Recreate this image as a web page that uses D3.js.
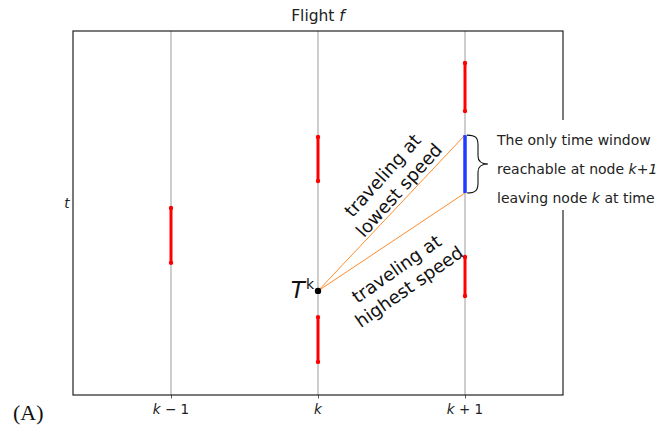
<!DOCTYPE html>
<html>
<head>
<meta charset="utf-8">
<script src="https://cdn.jsdelivr.net/npm/d3@7"></script>
<style>
  html, body { margin: 0; padding: 0; background: #fff; }
  svg { display: block; font-family: "DejaVu Sans", Verdana, sans-serif; }
</style>
</head>
<body>
<svg id="chart" width="671" height="431"></svg>
<script>
// Nodes along the flight (x positions) and their tick labels
const nodePos = [1, 2, 3];
const nodeLabels = [["k", " \u2212 1"], ["k", ""], ["k", " + 1"]];

// Time windows at each node (start / end on the time axis)
const windowNode  = [1, 2, 2, 3, 3];
const windowStart = [36.3, 58.8, 9.1, 78.0, 27.2];
const windowEnd   = [51.4, 70.9, 21.4, 91.2, 37.9];

// The single window at node k+1 reachable when leaving node k at T^k
const reachNode  = 3;
const reachStart = 55.5;
const reachEnd   = 71.4;

// Departure time at node k
const departNode = 2;
const departTime = 28.6;

const svg = d3.select("#chart");
const W = 671, H = 431;
const margin = { left: 73, top: 31, right: W - 563, bottom: H - 395 };

const xMin = 1 / 3, xMax = 11 / 3;
const x = d3.scaleLinear().domain([xMin, xMax]).range([margin.left, W - margin.right]);
const y = d3.scaleLinear().domain([0, 100]).range([H - margin.bottom, margin.top]);

// Vertical grid lines at each node
svg.append("g").selectAll("line").data(nodePos).join("line")
  .attr("x1", d => x(d)).attr("x2", d => x(d))
  .attr("y1", y(0)).attr("y2", y(100))
  .attr("stroke", "#9c9c9c").attr("stroke-width", 1);

// Bottom axis with ticks only; labels drawn separately for italic k
const xAxis = d3.axisBottom(x).tickValues(nodePos).tickSize(3.5).tickFormat("");
const gx = svg.append("g").attr("transform", `translate(0,${y(0)})`).call(xAxis);
gx.select(".domain").remove();
gx.selectAll(".tick line").attr("stroke", "#333").attr("stroke-width", 0.8);

const tickText = svg.append("g").selectAll("text").data(nodePos).join("text")
  .attr("x", d => x(d)).attr("y", 414)
  .attr("text-anchor", "middle")
  .attr("font-size", 13.5).attr("fill", "#222");
tickText.append("tspan").attr("font-style", "italic").text((d, i) => nodeLabels[i][0]);
tickText.append("tspan").text((d, i) => nodeLabels[i][1]);

// Orange lines: slowest and fastest travel from T^k to node k+1
const lineData = [reachStart, reachEnd];
svg.append("g").selectAll("line").data(lineData).join("line")
  .attr("x1", x(departNode)).attr("y1", y(departTime))
  .attr("x2", x(reachNode)).attr("y2", d => y(d))
  .attr("stroke", "#ff8c2a").attr("stroke-width", 1);

// Red time windows with end markers
const wins = windowNode.map((n, i) => ({ n, s: windowStart[i], e: windowEnd[i] }));
const wg = svg.append("g");
wg.selectAll("line").data(wins).join("line")
  .attr("x1", d => x(d.n)).attr("x2", d => x(d.n))
  .attr("y1", d => y(d.s)).attr("y2", d => y(d.e))
  .attr("stroke", "#ff0000").attr("stroke-width", 3);
wg.selectAll("circle").data(wins.flatMap(d => [{ n: d.n, v: d.s }, { n: d.n, v: d.e }])).join("circle")
  .attr("cx", d => x(d.n)).attr("cy", d => y(d.v)).attr("r", 2.2)
  .attr("fill", "#ff0000");

// Blue reachable window
svg.append("line")
  .attr("x1", x(reachNode)).attr("x2", x(reachNode))
  .attr("y1", y(reachStart)).attr("y2", y(reachEnd))
  .attr("stroke", "#1f3cff").attr("stroke-width", 3.5);

// Departure point
svg.append("circle").attr("cx", x(departNode)).attr("cy", y(departTime)).attr("r", 3.2).attr("fill", "#000");

// Axes frame
svg.append("rect")
  .attr("x", x(xMin)).attr("y", y(100))
  .attr("width", x(xMax) - x(xMin)).attr("height", y(0) - y(100))
  .attr("fill", "none").attr("stroke", "#222").attr("stroke-width", 1.2);

// Curly brace next to the blue window
const bx = x(reachNode) + 2, by0 = y(reachEnd), by1 = y(reachStart), bm = (by0 + by1) / 2;
svg.append("path")
  .attr("d", `M${bx},${by0} C${bx + 9},${by0} ${bx + 11},${by0 + 3} ${bx + 11},${by0 + 10}
    L${bx + 11},${bm - 8} C${bx + 11},${bm - 2} ${bx + 15},${bm} ${bx + 21},${bm}
    C${bx + 15},${bm} ${bx + 11},${bm + 2} ${bx + 11},${bm + 8}
    L${bx + 11},${by1 - 10} C${bx + 11},${by1 - 3} ${bx + 9},${by1} ${bx},${by1}`)
  .attr("fill", "none").attr("stroke", "#111").attr("stroke-width", 1.1);

// Annotation box (white background hides the frame behind it)
svg.append("rect").attr("x", 490).attr("y", 120).attr("width", 172).attr("height", 90).attr("fill", "#fff");
const ann = svg.append("g").attr("font-size", 14).attr("fill", "#222");
ann.append("text").attr("x", 497).attr("y", 145).text("The only time window");
const a2 = ann.append("text").attr("x", 497).attr("y", 174);
a2.append("tspan").text("reachable at node ");
a2.append("tspan").attr("font-style", "italic").text("k+1");
const a3 = ann.append("text").attr("x", 497).attr("y", 203);
a3.append("tspan").text("leaving node ");
a3.append("tspan").attr("font-style", "italic").text("k");
a3.append("tspan").text(" at time");

// Rotated speed labels
function rotLabel(cx, cy, angle, lines) {
  const t = svg.append("text")
    .attr("transform", `translate(${cx},${cy}) rotate(${angle})`)
    .attr("text-anchor", "middle").attr("font-size", 18).attr("fill", "#111");
  lines.forEach((l, i) => t.append("tspan").attr("x", 0).attr("y", (i - 0.5) * 22 + 6).text(l));
}
rotLabel(391, 183, -48, ["traveling at", "lowest speed"]);
rotLabel(403, 278, -35, ["traveling at", "highest speed"]);

// T^k label
const tk = svg.append("text").attr("x", 314).attr("y", 298).attr("text-anchor", "end")
  .attr("font-size", 23).attr("font-style", "italic").attr("fill", "#111");
tk.append("tspan").text("T");
tk.append("tspan").attr("font-size", 14).attr("font-style", "normal").attr("dy", -9).attr("dx", 1).text("k");

// Title
const title = svg.append("text").attr("x", 318).attr("y", 21).attr("text-anchor", "middle")
  .attr("font-size", 15.5).attr("fill", "#222");
title.append("tspan").text("Flight ");
title.append("tspan").attr("font-style", "italic").text("f");

// Y-axis label
svg.append("text").attr("x", 67).attr("y", 208).attr("text-anchor", "middle")
  .attr("font-size", 13.5).attr("font-style", "italic").attr("fill", "#222").text("t");

// Panel letter
svg.append("text").attr("x", 13).attr("y", 420)
  .style("font-family", "'Liberation Serif', 'Times New Roman', serif")
  .attr("font-size", 22).attr("fill", "#111").text("(A)");
</script>
</body>
</html>
